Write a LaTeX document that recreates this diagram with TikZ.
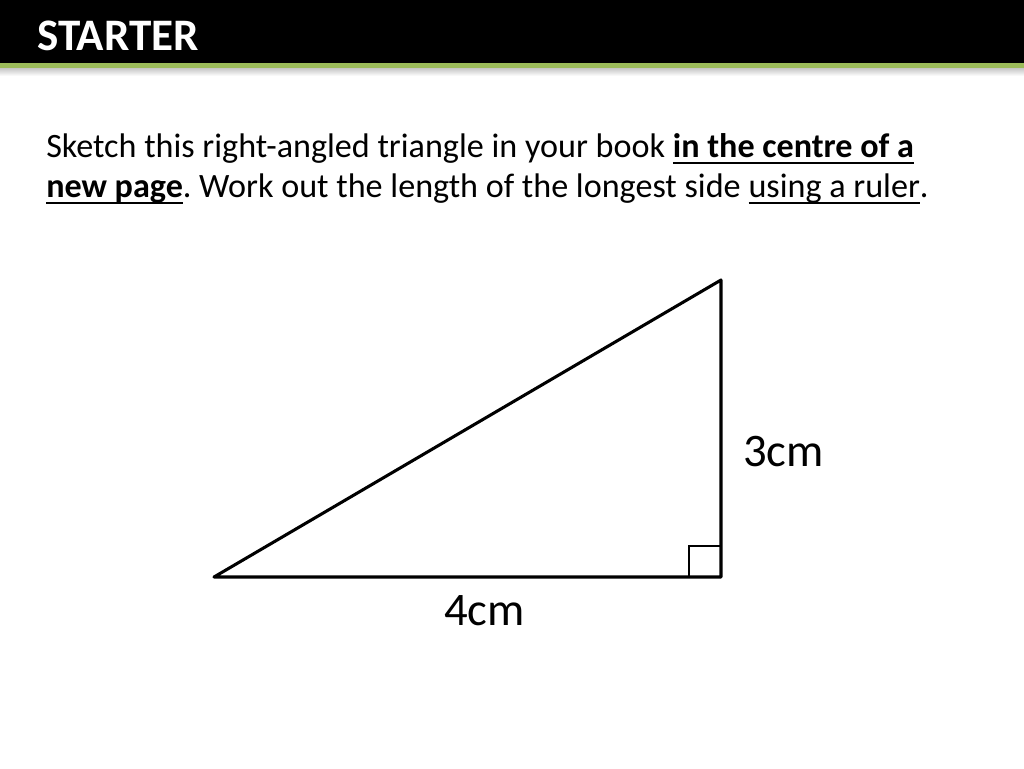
\documentclass[tikz,border=0pt]{standalone}
\usepackage{fontspec}
\setmainfont{Carlito}
\usepackage{xcolor}
\usepackage{tikz}
\usetikzlibrary{positioning}

\definecolor{bargreen}{HTML}{9BBB59}
\frenchspacing
% underline at a fixed depth below the baseline
\newcommand{\ulin}[1]{\setbox0=\hbox{#1}\rlap{\vrule width\wd0 height -3.9pt depth 5.5pt}\box0}

\begin{document}
\begin{tikzpicture}[x=0.75pt, y=-0.75pt]
    \useasboundingbox (0,0) rectangle (1024,768);
    \fill[white] (0,0) rectangle (1024,768);

    % header bar
    \fill[black] (0,0) rectangle (1024,63);
    \shade[top color=gray!45, bottom color=white] (0,68) rectangle (1024,76);
    \fill[bargreen] (0,63) rectangle (1024,68);
    \node[anchor=base west, inner sep=0pt, text=white, font=\fontsize{33.8}{40}\selectfont\bfseries] (title) at (37,50) {STARTER};

    % task text
    \node[anchor=base west, inner sep=0pt, font=\fontsize{25.6}{31}\selectfont] (line1) at (46,157)
        {Sketch this right-angled triangle in your book \ulin{\textbf{in the centre of a}}};
    \node[anchor=base west, inner sep=0pt, font=\fontsize{25.6}{31}\selectfont] (line2) at (46,197)
        {\ulin{\textbf{new page}}. Work out the length of the longest side \ulin{using a ruler}.};

    % triangle
    \coordinate (A) at (214,577);
    \coordinate (B) at (721,577);
    \coordinate (C) at (721,280);
    \draw[line width=2.3pt, line join=round] (A) -- (B) -- (C) -- cycle;
    \draw[line width=1.6pt] (689,577) -- (689,546) -- (721,546);

    % side labels
    \node[anchor=base west, inner sep=0pt, font=\fontsize{35}{42}\selectfont] (side3) at (743,466) {3cm};
    \node[anchor=base west, inner sep=0pt, font=\fontsize{35}{42}\selectfont] (side4) at (444,625) {4cm};
\end{tikzpicture}
\end{document}
